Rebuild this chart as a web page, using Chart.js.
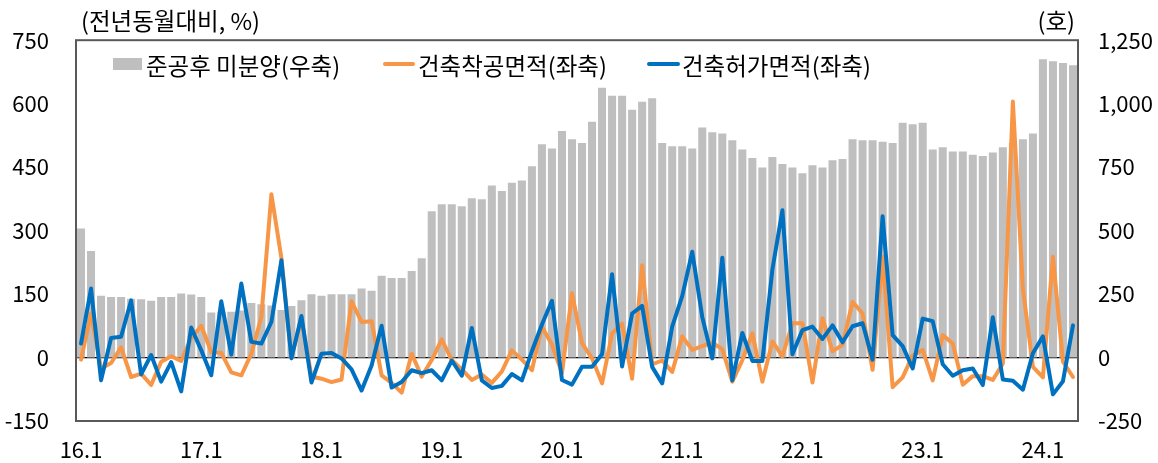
<!DOCTYPE html>
<html>
<head>
<meta charset="utf-8">
<script src="https://cdn.jsdelivr.net/npm/chart.js@4.4.1/dist/chart.umd.min.js"></script>
<style>
  html, body { margin: 0; padding: 0; background: #fff; }
  #wrap { position: relative; width: 1158px; height: 463px; overflow: hidden; }
  canvas { position: absolute; left: 0; top: 0; }
  .txt { position: absolute; font-family: "Noto Sans CJK KR", "Noto Sans", sans-serif; font-size: 23.5px; line-height: 24px; color: #000; white-space: nowrap; }
  .box { position: absolute; }
</style>
</head>
<body>
<div id="wrap">
  <canvas id="c" width="1158" height="463"></canvas>
  <div class="txt" style="left:81px; top:8px;">(전년동월대비, %)</div>
  <div class="txt" style="right:83px; top:8px;">(호)</div>
  <div class="box" style="left:113px; top:58px; width:29px; height:12px; background:#BFBFBF;"></div>
  <div class="txt" style="left:146px; top:53px;">준공후 미분양(우축)</div>
  <div class="box" style="left:383px; top:62px; width:32px; height:4px; border-radius:2px; background:#F79646;"></div>
  <div class="txt" style="left:418px; top:53px;">건축착공면적(좌축)</div>
  <div class="box" style="left:647px; top:62px; width:33px; height:4px; border-radius:2px; background:#0070C0;"></div>
  <div class="txt" style="left:682px; top:53px;">건축허가면적(좌축)</div>
</div>
<script>
const categories = [
 '16.1','16.2','16.3','16.4','16.5','16.6','16.7','16.8','16.9','16.10','16.11','16.12',
 '17.1','17.2','17.3','17.4','17.5','17.6','17.7','17.8','17.9','17.10','17.11','17.12',
 '18.1','18.2','18.3','18.4','18.5','18.6','18.7','18.8','18.9','18.10','18.11','18.12',
 '19.1','19.2','19.3','19.4','19.5','19.6','19.7','19.8','19.9','19.10','19.11','19.12',
 '20.1','20.2','20.3','20.4','20.5','20.6','20.7','20.8','20.9','20.10','20.11','20.12',
 '21.1','21.2','21.3','21.4','21.5','21.6','21.7','21.8','21.9','21.10','21.11','21.12',
 '22.1','22.2','22.3','22.4','22.5','22.6','22.7','22.8','22.9','22.10','22.11','22.12',
 '23.1','23.2','23.3','23.4','23.5','23.6','23.7','23.8','23.9','23.10','23.11','23.12',
 '24.1','24.2','24.3','24.4'
];
const tickLabels = ['16.1','17.1','18.1','19.1','20.1','21.1','22.1','23.1','24.1'];

// 준공후 미분양 (우축, 호)
const unsold = [
 508,420,243,238,238,232,230,224,238,238,252,248,
 238,177,180,180,185,215,210,205,187,203,226,249,
 243,249,249,249,272,263,322,313,313,341,391,576,
 604,604,596,627,623,678,656,688,697,753,840,823,
 892,860,845,929,1063,1031,1031,976,1008,1021,845,832,
 832,823,906,887,882,856,819,786,749,790,762,749,
 726,757,749,777,782,860,856,856,850,845,925,919,
 925,819,828,812,812,799,794,808,828,845,860,882,
 1175,1167,1160,1151
];

// 건축착공면적 (좌축, 전년동월대비 %)
const starts = [
 -5,104,-26,-13,24,-46,-38,-65,-10,3,-8,46,
 75,13,11,-35,-42,9,96,386,235,0,92,-45,
 -50,-58,-52,133,84,86,-42,-60,-83,9,-45,-6,
 43,-6,-28,-53,-40,-60,-33,17,-5,-30,73,31,
 -37,152,34,-2,-61,57,80,-50,218,-16,-7,-34,
 50,18,27,35,20,-57,-6,57,-57,38,3,81,
 81,-59,93,15,30,132,104,-29,238,-70,-47,5,
 18,-54,53,33,-64,-44,-44,-53,-14,605,163,-22,
 -47,238,-10,-46
];

// 건축허가면적 (좌축, 전년동월대비 %)
const permits = [
 33,163,-54,46,49,135,-40,6,-57,-11,-80,71,
 17,-42,133,7,175,37,33,84,230,-2,98,-59,
 9,11,-2,-28,-78,-19,75,-71,-58,-30,-37,-30,
 -54,-7,-43,70,-54,-72,-67,-39,-54,15,78,134,
 -53,-64,-22,-22,8,197,-21,104,122,-22,-61,73,
 145,250,96,-2,236,-54,58,-8,-8,208,348,8,
 65,73,44,76,36,74,81,-5,334,53,27,-26,
 92,86,-16,-43,-30,-26,-65,95,-52,-55,-76,10,
 50,-87,-56,76
];

const FONT = { family: '"Noto Sans CJK KR", "Noto Sans", sans-serif', size: 22 };

const framePlugin = {
  id: 'frame',
  afterDraw(chart) {
    const a = chart.chartArea, ctx = chart.ctx;
    ctx.save();
    ctx.strokeStyle = '#595959';
    ctx.lineWidth = 2;
    ctx.strokeRect(a.left, a.top, a.right - a.left, a.bottom - a.top);
    ctx.restore();
  }
};

new Chart(document.getElementById('c'), {
  data: {
    labels: categories,
    datasets: [
      { type: 'line', label: '건축허가면적(좌축)', data: permits, yAxisID: 'yL',
        borderColor: '#0070C0', borderWidth: 4, pointRadius: 0, tension: 0,
        borderJoinStyle: 'round', borderCapStyle: 'round', order: 0 },
      { type: 'line', label: '건축착공면적(좌축)', data: starts, yAxisID: 'yL',
        borderColor: '#F79646', borderWidth: 4, pointRadius: 0, tension: 0,
        borderJoinStyle: 'round', borderCapStyle: 'round', order: 1 },
      { type: 'bar', label: '준공후 미분양(우축)', data: unsold, yAxisID: 'yR',
        backgroundColor: '#BFBFBF', barPercentage: 0.8, categoryPercentage: 1.0, order: 2 }
    ]
  },
  options: {
    responsive: false,
    animation: false,
    devicePixelRatio: 1,
    layout: { padding: { top: 40, left: 0, right: 0, bottom: 0 } },
    plugins: { legend: { display: false }, tooltip: { enabled: false } },
    scales: {
      x: {
        type: 'category',
        offset: true,
        grid: { display: false, drawTicks: false },
        border: { display: false },
        ticks: {
          autoSkip: false, maxRotation: 0, minRotation: 0, padding: 15,
          color: '#000', font: FONT,
          callback: function(v) { const l = this.getLabelForValue(v); return tickLabels.includes(l) ? l : ''; }
        },
        afterFit(s) { s.height = 42; }
      },
      yL: {
        position: 'left', min: -150, max: 750,
        grid: { drawTicks: false, color: (c) => c.tick && c.tick.value === 0 ? '#000' : 'rgba(0,0,0,0)', lineWidth: 1.2 },
        border: { display: false },
        ticks: { stepSize: 150, padding: 27, color: '#000', font: FONT },
        afterFit(s) { s.width = 76; }
      },
      yR: {
        position: 'right', min: -250, max: 1250,
        grid: { display: false, drawTicks: false },
        border: { display: false },
        ticks: { stepSize: 250, padding: 20, color: '#000', font: FONT,
          callback: (v) => v.toLocaleString('en-US') },
        afterFit(s) { s.width = 80; }
      }
    }
  },
  plugins: [framePlugin]
});
</script>
</body>
</html>
